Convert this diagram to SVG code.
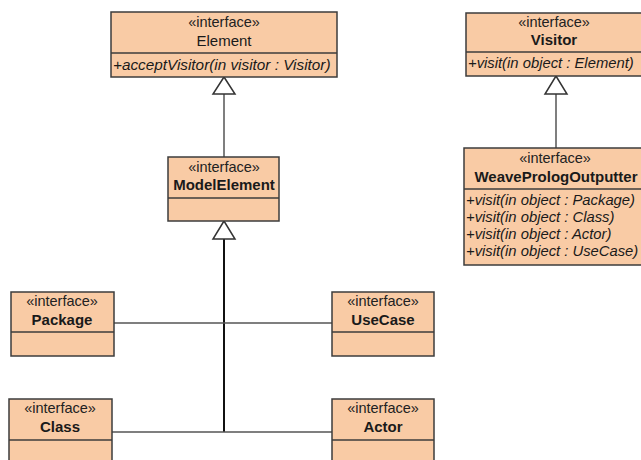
<svg xmlns="http://www.w3.org/2000/svg" width="641" height="460" viewBox="0 0 641 460">
  <style>
    .box { fill: #F9CBA5; stroke: #3C3C3C; stroke-width: 1.5; }
    .div { stroke: #3C3C3C; stroke-width: 1.5; }
    .st { font-family: "Liberation Sans", Arial, sans-serif; font-size: 14.5px; fill: #222; text-anchor: middle; }
    .nm { font-family: "Liberation Sans", Arial, sans-serif; font-size: 15px; font-weight: bold; fill: #1a1a1a; text-anchor: middle; }
    .nmr { font-family: "Liberation Sans", Arial, sans-serif; font-size: 15px; fill: #1a1a1a; text-anchor: middle; }
    .op { font-family: "Liberation Sans", Arial, sans-serif; font-size: 15.3px; font-style: italic; fill: #1a1a1a; }
    .ops { font-size: 14.8px; }
    .ln { fill: none; stroke: #555; stroke-width: 1.5; }
    .lnd { fill: none; stroke: #111; stroke-width: 2; }
    .tri { fill: #fff; stroke: #333; stroke-width: 1.5; }
  </style>

  <!-- connectors -->
  <g id="connectors">
    <line class="ln" x1="224" y1="94" x2="224" y2="157"/>
    <polygon class="tri" points="224,77 213,94 235,94"/>
    <line class="ln" x1="556" y1="94" x2="556" y2="148"/>
    <polygon class="tri" points="556,76 545,94 567,94"/>
    <line class="lnd" x1="224" y1="239" x2="224" y2="432"/>
    <polygon class="tri" points="224,221 213,239 235,239"/>
    <line class="ln" x1="114" y1="323" x2="332" y2="323"/>
    <line class="ln" x1="112" y1="432" x2="332" y2="432"/>
  </g>

  <g id="Element">
    <rect class="box" x="111" y="12" width="226" height="65"/>
    <line class="div" x1="111" y1="53" x2="337" y2="53"/>
    <text class="st" x="224" y="27">«interface»</text>
    <text class="nmr" x="224" y="46">Element</text>
    <text class="op" x="113" y="70">+acceptVisitor(in visitor : Visitor)</text>
  </g>

  <g id="Visitor">
    <rect class="box" x="466" y="13" width="180" height="63"/>
    <line class="div" x1="466" y1="52" x2="641" y2="52"/>
    <text class="st" x="554" y="27">«interface»</text>
    <text class="nm" x="554" y="45">Visitor</text>
    <text class="op ops" x="468" y="68">+visit(in object : Element)</text>
  </g>

  <g id="WeavePrologOutputter">
    <rect class="box" x="464" y="148" width="182" height="117"/>
    <line class="div" x1="464" y1="189" x2="641" y2="189"/>
    <text class="st" x="555" y="163">«interface»</text>
    <text class="nm" x="556" y="182">WeavePrologOutputter</text>
    <text class="op ops" x="466" y="205">+visit(in object : Package)</text>
    <text class="op ops" x="466" y="222">+visit(in object : Class)</text>
    <text class="op ops" x="466" y="239">+visit(in object : Actor)</text>
    <text class="op ops" x="466" y="256">+visit(in object : UseCase)</text>
  </g>

  <g id="ModelElement">
    <rect class="box" x="168" y="157" width="111" height="64"/>
    <line class="div" x1="168" y1="198" x2="279" y2="198"/>
    <text class="st" x="224" y="172">«interface»</text>
    <text class="nm" x="224" y="190">ModelElement</text>
  </g>

  <g id="Package">
    <rect class="box" x="11" y="292" width="103" height="64"/>
    <line class="div" x1="11" y1="332" x2="114" y2="332"/>
    <text class="st" x="62" y="306">«interface»</text>
    <text class="nm" x="62" y="325">Package</text>
  </g>

  <g id="UseCase">
    <rect class="box" x="332" y="292" width="102" height="64"/>
    <line class="div" x1="332" y1="332" x2="434" y2="332"/>
    <text class="st" x="383" y="306">«interface»</text>
    <text class="nm" x="383" y="325">UseCase</text>
  </g>

  <g id="Class">
    <rect class="box" x="9" y="399" width="103" height="70"/>
    <line class="div" x1="9" y1="440" x2="112" y2="440"/>
    <text class="st" x="60" y="413">«interface»</text>
    <text class="nm" x="60" y="432">Class</text>
  </g>

  <g id="Actor">
    <rect class="box" x="332" y="399" width="102" height="70"/>
    <line class="div" x1="332" y1="440" x2="434" y2="440"/>
    <text class="st" x="383" y="413">«interface»</text>
    <text class="nm" x="383" y="432">Actor</text>
  </g>
</svg>
